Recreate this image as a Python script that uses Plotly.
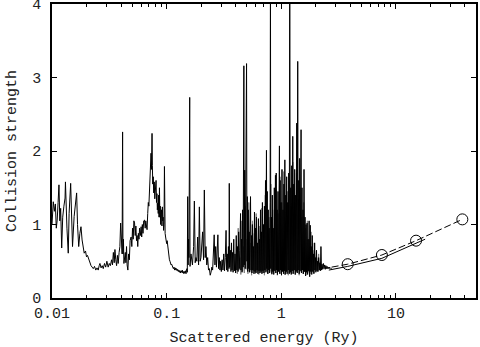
import numpy as np
import plotly.graph_objects as go

# R-matrix collision strength, low energies (Ry, Omega)
e_low = [0.0100, 0.0101, 0.01026, 0.0105, 0.0107, 0.0109, 0.0111, 0.0113, 0.0115, 0.0117,
         0.0119, 0.01215, 0.0124, 0.0127, 0.0130, 0.0131, 0.0133, 0.0135, 0.01386, 0.0141,
         0.01455, 0.0148, 0.0151, 0.0156, 0.0160, 0.0164, 0.0167, 0.0171, 0.0175, 0.0179,
         0.0183, 0.0187, 0.0191, 0.0196, 0.0200, 0.0204, 0.0209, 0.0214, 0.0219, 0.0224,
         0.0229, 0.0235, 0.0241, 0.0247, 0.0253, 0.0258, 0.0262, 0.0268, 0.0274, 0.0280,
         0.0287, 0.0294, 0.0301, 0.0309, 0.0316, 0.0323, 0.0331, 0.0337, 0.0343, 0.0349,
         0.0354, 0.0360, 0.0366, 0.0372, 0.0378, 0.0385, 0.0391, 0.0397, 0.0403, 0.0409,
         0.0413, 0.0416, 0.0420, 0.0424, 0.0430, 0.0436, 0.0441, 0.0447, 0.0452]
om_low = [1.00, 1.22, 1.31, 1.18, 1.28, 0.95, 1.06, 1.30, 1.54, 1.05,
          1.22, 0.68, 1.10, 1.25, 1.36, 1.58, 1.10, 0.95, 0.61, 1.15,
          1.56, 1.05, 0.70, 1.11, 1.30, 1.43, 1.00, 0.70, 0.88, 0.97,
          0.79, 0.70, 0.61, 0.64, 0.56, 0.58, 0.52, 0.49, 0.44, 0.42,
          0.40, 0.43, 0.38, 0.41, 0.38, 0.44, 0.47, 0.41, 0.44, 0.40,
          0.47, 0.42, 0.50, 0.42, 0.47, 0.44, 0.52, 0.45, 0.62, 0.48,
          0.66, 0.52, 0.44, 0.58, 0.47, 0.62, 0.70, 1.02, 0.80, 0.60,
          2.26, 0.60, 0.80, 0.47, 0.52, 0.62, 0.48, 0.70, 0.45]

e_mid = [0.0459, 0.0466, 0.0473, 0.0480, 0.0490, 0.0497, 0.0504, 0.0511, 0.0518, 0.0525,
         0.0532, 0.0539, 0.0546, 0.0553, 0.0560, 0.0567, 0.0574, 0.0581, 0.0590, 0.0599,
         0.0606, 0.0614, 0.0622, 0.0631, 0.0641, 0.0650, 0.0658, 0.0667, 0.0675, 0.0684,
         0.0692, 0.0700, 0.0708, 0.0715, 0.0723, 0.0731, 0.0738, 0.0746, 0.0751, 0.0757,
         0.0764, 0.0772, 0.0780, 0.0788, 0.0797, 0.0809, 0.0816, 0.0823, 0.0830, 0.0837,
         0.0845, 0.0852, 0.0859, 0.0866, 0.0873, 0.0880, 0.0887, 0.0894, 0.0902, 0.0910,
         0.0918, 0.0925, 0.0933, 0.0941, 0.0949, 0.0957, 0.0963, 0.0970, 0.0980, 0.0988,
         0.1000, 0.1011, 0.1022, 0.1035, 0.1047, 0.1058, 0.1070, 0.1082, 0.1094, 0.1106,
         0.1118, 0.1130, 0.1145, 0.1160, 0.1175, 0.1190, 0.1205, 0.1220, 0.1235, 0.1249,
         0.1265, 0.1280, 0.1295, 0.1310, 0.1325, 0.1340, 0.1355, 0.1370, 0.1385, 0.1400,
         0.1415, 0.1430, 0.1445, 0.1460, 0.1476, 0.1490, 0.1505, 0.1515, 0.1527, 0.1540,
         0.1555, 0.1565, 0.1590, 0.1600, 0.1631, 0.1680, 0.1720, 0.1746, 0.1775, 0.1803,
         0.1835, 0.1865, 0.1900, 0.1930, 0.1960, 0.1993, 0.2060, 0.2100, 0.2133, 0.2170]
om_mid = [0.38, 0.60, 0.52, 0.78, 0.83, 0.70, 0.95, 0.80, 1.05, 1.02,
          0.85, 0.98, 0.78, 0.85, 0.70, 0.88, 0.80, 0.95, 0.85, 0.97,
          0.83, 1.00, 0.88, 1.05, 1.06, 0.95, 1.05, 0.98, 0.93, 1.15,
          1.30, 1.25, 1.51, 1.40, 1.70, 1.97, 1.75, 2.24, 1.80, 1.55,
          1.65, 1.43, 1.58, 1.35, 1.50, 1.60, 1.30, 1.42, 1.20, 1.29,
          1.15, 1.40, 1.10, 1.50, 1.10, 1.25, 1.00, 1.06, 1.20, 0.98,
          1.24, 1.05, 1.10, 0.92, 1.00, 1.79, 0.95, 0.88, 0.83, 0.80,
          0.74, 0.78, 0.70, 0.62, 0.58, 0.52, 0.50, 0.47, 0.45, 0.46,
          0.43, 0.42, 0.40, 0.42, 0.38, 0.41, 0.38, 0.40, 0.37, 0.39,
          0.36, 0.38, 0.35, 0.37, 0.34, 0.37, 0.35, 0.38, 0.34, 0.36,
          0.33, 0.36, 0.34, 0.37, 0.33, 0.38, 0.40, 0.35, 1.38, 0.45,
          0.80, 0.55, 2.73, 0.43, 0.60, 0.45, 0.70, 1.32, 0.48, 0.55,
          0.50, 0.83, 0.45, 1.24, 0.50, 0.55, 0.90, 0.52, 1.47, 0.55]

e_res = [0.2203, 0.2240, 0.2280, 0.2320, 0.2360, 0.2400, 0.2440, 0.2480, 0.2520, 0.2560,
         0.2600, 0.2640, 0.2680, 0.2720, 0.2760, 0.2800, 0.2840, 0.2880, 0.2920, 0.2960,
         0.3000, 0.3050, 0.3100, 0.3150, 0.3200, 0.3250, 0.3300, 0.3340, 0.3380, 0.3420,
         0.3460, 0.3500, 0.3520, 0.3550, 0.3600, 0.3640, 0.3680, 0.3720, 0.3760, 0.3800,
         0.3850, 0.3900, 0.3950, 0.4000, 0.4050, 0.4100, 0.4150, 0.4200, 0.4250, 0.4300,
         0.4350, 0.4415, 0.4450, 0.4500, 0.4550, 0.4600, 0.4650, 0.4718, 0.4750, 0.4800,
         0.4850, 0.4900, 0.4980, 0.5020, 0.5060, 0.5100, 0.5150, 0.5200, 0.5250, 0.5300,
         0.5394, 0.5450, 0.5500, 0.5550, 0.5600, 0.5650, 0.5720, 0.5780, 0.5840, 0.5900,
         0.5963, 0.6020, 0.6080, 0.6150, 0.6200, 0.6260, 0.6320, 0.6400, 0.6460, 0.6520,
         0.6590, 0.6650, 0.6720, 0.6780, 0.6850, 0.6920, 0.7000, 0.7060, 0.7130, 0.7200,
         0.7287, 0.7350, 0.7430, 0.7480, 0.7550, 0.7620, 0.7700, 0.7780, 0.7850, 0.7920,
         0.8000, 0.8050, 0.8100]
om_res = [0.70, 0.45, 0.55, 0.38, 0.40, 0.31, 0.35, 0.42, 0.38, 0.55,
          0.86, 0.45, 0.70, 0.42, 0.60, 0.86, 0.40, 0.55, 0.38, 0.50,
          0.36, 0.52, 0.38, 0.60, 0.37, 0.55, 0.92, 0.38, 0.60, 0.36,
          0.70, 0.40, 1.56, 0.42, 0.65, 0.36, 0.75, 0.38, 0.62, 0.35,
          0.80, 0.37, 0.60, 0.34, 0.85, 0.38, 0.70, 0.36, 0.90, 0.40,
          0.65, 1.15, 0.38, 0.80, 0.35, 1.20, 0.42, 3.16, 0.45, 1.74,
          0.40, 1.10, 3.19, 0.50, 1.38, 0.36, 1.20, 0.40, 0.90, 0.35,
          1.38, 0.38, 0.85, 0.34, 1.00, 0.38, 0.70, 0.33, 1.17, 0.36,
          0.95, 0.34, 1.10, 0.38, 0.75, 0.33, 1.08, 0.37, 0.80, 0.34,
          1.20, 0.36, 0.90, 0.33, 1.30, 0.37, 1.00, 0.34, 1.25, 0.38,
          1.60, 0.35, 2.01, 0.40, 1.45, 0.33, 1.20, 0.38, 0.95, 0.34,
          1.30, 4.60, 0.40]

e_high = [0.8200, 0.8280, 0.8360, 0.8440, 0.8520, 0.8600, 0.8700, 0.8780, 0.8900, 0.8980,
          0.9040, 0.9100, 0.9200, 0.9280, 0.9370, 0.9450, 0.9540, 0.9640, 0.9700, 0.9780,
          0.9850, 0.9950, 1.0050, 1.0150, 1.0250, 1.0350, 1.0450, 1.0550, 1.0650, 1.0750,
          1.0850, 1.0950, 1.1050, 1.1150, 1.1250, 1.1380, 1.1500, 1.1620, 1.1740, 1.1860,
          1.1980, 1.2100, 1.2220, 1.2350, 1.2470, 1.2600, 1.2720, 1.2850, 1.2980, 1.3100,
          1.3230, 1.3365, 1.3500, 1.3650, 1.3780, 1.3920, 1.4050, 1.4200, 1.4340, 1.4480,
          1.4620, 1.4890, 1.5020, 1.5170, 1.5320, 1.5480, 1.5640, 1.5800, 1.5960, 1.6120,
          1.6280, 1.6450, 1.6620, 1.6800, 1.6980, 1.7150, 1.7330, 1.7500, 1.7700, 1.7900,
          1.8080, 1.8260, 1.8450, 1.8650, 1.8850, 1.9050, 1.9250, 1.9450, 1.9650, 1.9850,
          2.0050, 2.0300, 2.0500, 2.0700, 2.0900, 2.1200, 2.1450, 2.1700, 2.1950, 2.2200,
          2.2450, 2.2700, 2.3000, 2.3300, 2.3600, 2.3900, 2.4200, 2.4500, 2.4800, 2.5100,
          2.5400, 2.5700, 2.6000, 2.6300, 2.6600, 2.7000, 2.7500]
om_high = [1.10, 0.33, 1.40, 0.36, 0.95, 0.32, 1.50, 0.37, 1.67, 0.34,
           1.70, 0.38, 1.20, 0.32, 1.45, 0.36, 1.10, 2.07, 0.33, 1.60,
           0.38, 1.30, 0.31, 1.75, 0.36, 1.20, 0.33, 1.55, 0.37, 1.88,
           0.32, 1.40, 0.36, 1.65, 0.33, 1.30, 0.38, 1.70, 0.33, 4.60,
           0.35, 1.50, 0.32, 1.80, 0.37, 2.20, 0.33, 1.55, 0.38, 1.75,
           0.32, 1.40, 0.36, 2.38, 0.34, 3.22, 0.38, 1.60, 0.33, 1.90,
           0.37, 2.29, 0.34, 1.50, 0.38, 1.20, 0.33, 1.75, 0.36, 1.10,
           0.30, 1.00, 0.35, 1.02, 0.32, 0.80, 0.37, 1.05, 0.29, 0.99,
           0.36, 0.70, 0.32, 0.85, 0.36, 0.60, 0.33, 0.75, 0.38, 0.55,
           0.35, 0.65, 0.37, 0.50, 0.36, 0.55, 0.38, 0.48, 0.37, 0.70,
           0.38, 0.46, 0.39, 0.47, 0.40, 0.45, 0.39, 0.44, 0.40, 0.43,
           0.40, 0.42, 0.40, 0.42, 0.40, 0.41, 0.40]

# second (grey) resonance curve
e_gray = [0.400, 0.407, 0.414, 0.421, 0.428, 0.436, 0.444, 0.452, 0.460, 0.468,
          0.476, 0.485, 0.494, 0.503, 0.512, 0.521, 0.531, 0.541, 0.551, 0.561,
          0.571, 0.582, 0.593, 0.604, 0.615, 0.626, 0.638, 0.650, 0.662, 0.674,
          0.687, 0.700, 0.713, 0.726, 0.740, 0.754, 0.768, 0.782, 0.797, 0.812,
          0.827, 0.842, 0.858, 0.874, 0.890, 0.907, 0.924, 0.941, 0.958, 0.976,
          0.994, 1.012, 1.031, 1.050, 1.070, 1.090, 1.110, 1.130, 1.151, 1.172,
          1.194, 1.216, 1.238, 1.261, 1.284, 1.308, 1.332, 1.357, 1.382, 1.407,
          1.433, 1.460, 1.487, 1.514, 1.542, 1.571, 1.600, 1.630, 1.660, 1.690,
          1.722, 1.754, 1.786, 1.820, 1.854, 1.890, 1.926, 1.962, 2.000, 2.040,
          2.080, 2.120, 2.160, 2.200]
om_gray = [0.36, 0.62, 0.33, 0.95, 0.38, 0.55, 0.32, 1.05, 0.37, 0.70,
           0.34, 1.25, 0.39, 0.80, 0.33, 1.30, 0.36, 0.75, 0.31, 1.05,
           0.37, 0.88, 0.33, 1.15, 0.36, 0.70, 0.32, 0.98, 0.38, 1.22,
           0.34, 0.85, 0.31, 1.40, 0.37, 0.90, 0.33, 1.10, 0.36, 1.55,
           0.32, 1.20, 0.38, 0.95, 0.34, 1.48, 0.31, 1.15, 0.36, 1.65,
           0.33, 1.30, 0.37, 1.72, 0.32, 1.05, 0.36, 1.45, 0.31, 1.60,
           0.35, 1.25, 0.33, 1.85, 0.37, 1.40, 0.32, 1.70, 0.36, 1.35,
           0.31, 1.50, 0.35, 1.10, 0.33, 1.30, 0.36, 0.95, 0.31, 1.05,
           0.35, 0.80, 0.33, 0.90, 0.36, 0.65, 0.34, 0.75, 0.37, 0.55,
           0.36, 0.60, 0.38, 0.48]

# smooth (solid) continuation above the resonance region
e_fit = [2.60, 3.80, 7.55, 15.0, 18.0]
om_fit = [0.38, 0.43, 0.54, 0.75, 0.80]

# distorted-wave results (dashed with circles)
e_dw = [2.75, 3.80, 7.55, 15.0, 38.0]
om_dw = [0.42, 0.46, 0.585, 0.78, 1.07]

x_ticks = [0.01, 0.1, 1, 10]
x_ticktext = ["0.01", "0.1", "1", "10"]
y_ticks = [0, 1, 2, 3, 4]
minor_x = [m * 10.0 ** p for p in (-2, -1, 0, 1) for m in range(2, 10) if m * 10.0 ** p < 50]

energy = e_low + e_mid + e_res + e_high
omega = om_low + om_mid + om_res + om_high

font = dict(family="Liberation Mono, DejaVu Sans Mono, monospace", size=15, color="#222")

fig = go.Figure()
fig.add_trace(go.Scatter(x=e_gray, y=om_gray, mode="lines",
                         line=dict(color="#808080", width=1), showlegend=False))
fig.add_trace(go.Scatter(x=energy, y=omega, mode="lines",
                         line=dict(color="black", width=1), showlegend=False))
fig.add_trace(go.Scatter(x=e_fit, y=om_fit, mode="lines",
                         line=dict(color="black", width=1), showlegend=False))
fig.add_trace(go.Scatter(x=e_dw, y=om_dw, mode="lines",
                         line=dict(color="black", width=1, dash="7px,3px"), showlegend=False))
fig.add_trace(go.Scatter(x=e_dw[1:], y=om_dw[1:], mode="markers",
                         marker=dict(symbol="circle-open", size=11, color="black",
                                     line=dict(width=1, color="black")),
                         showlegend=False))

fig.update_layout(
    width=480, height=347,
    margin=dict(l=52, r=4, t=4, b=49),
    paper_bgcolor="white", plot_bgcolor="white",
    font=font,
    xaxis=dict(type="log", range=[-2, np.log10(50)], automargin=False,
               tickvals=x_ticks, ticktext=x_ticktext,
               ticks="inside", ticklen=5, tickwidth=1, tickcolor="black",
               minor=dict(tickvals=minor_x, ticks="inside", ticklen=3,
                          tickcolor="black", showgrid=False),
               showline=True, linecolor="black", linewidth=1.5, mirror="allticks",
               showgrid=False, zeroline=False,
               title=dict(text="Scattered energy (Ry)", font=font, standoff=10)),
    yaxis=dict(range=[0, 4.001], tickvals=y_ticks, automargin=False,
               ticklabeloverflow="allow",
               ticks="inside", ticklen=5, tickwidth=1, tickcolor="black",
               showline=True, linecolor="black", linewidth=1.5, mirror="allticks",
               showgrid=False, zeroline=False, ticklabelstandoff=6,
               title=dict(text="Collision strength", font=font, standoff=12)),
)

fig.write_html("out.html", config={"displayModeBar": False},
               post_script="document.body.style.margin='0px';")
